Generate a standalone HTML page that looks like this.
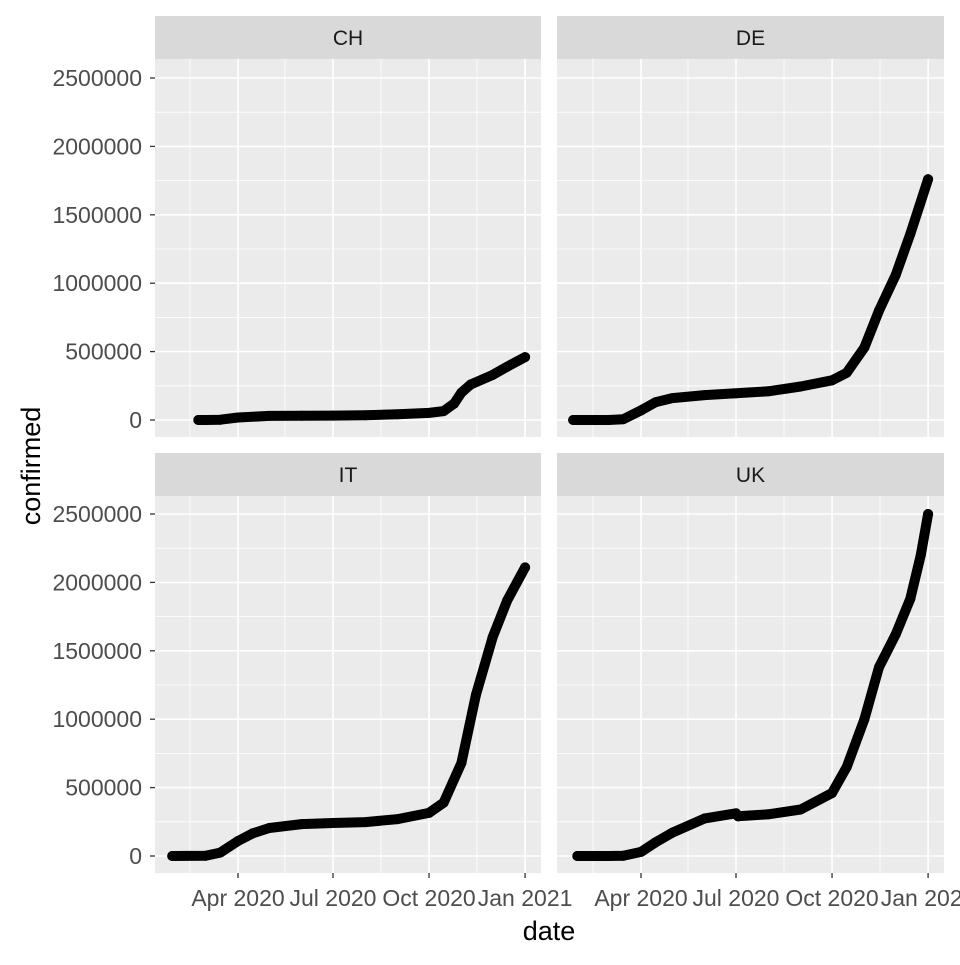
<!DOCTYPE html>
<html><head><meta charset="utf-8"><style>
body{margin:0;background:#fff}
svg{font-family:"Liberation Sans",Arial,sans-serif}
</style></head><body>
<svg id="chart" width="960" height="960" xmlns="http://www.w3.org/2000/svg"></svg>
<script>
const facets = ["CH","DE","IT","UK"];
const chDates = ["2020-02-23","2020-03-01","2020-03-15","2020-04-01","2020-05-01","2020-06-01","2020-07-01","2020-08-01","2020-09-01","2020-10-01","2020-10-15","2020-10-25","2020-11-01","2020-11-10","2020-12-01","2020-12-15","2021-01-01"];
const chValues = [0,30,2200,18000,30000,31000,32000,35000,42000,52000,65000,120000,200000,260000,330000,390000,460000];
const deDates = ["2020-01-27","2020-03-01","2020-03-15","2020-04-01","2020-04-15","2020-05-01","2020-06-01","2020-07-01","2020-08-01","2020-09-01","2020-10-01","2020-10-15","2020-11-01","2020-11-15","2020-12-01","2020-12-15","2021-01-01"];
const deValues = [0,130,6000,70000,130000,160000,182000,195000,210000,245000,290000,345000,530000,800000,1060000,1360000,1760000];
const itDates = ["2020-01-29","2020-03-01","2020-03-15","2020-04-01","2020-04-15","2020-05-01","2020-06-01","2020-07-01","2020-08-01","2020-09-01","2020-10-01","2020-10-15","2020-11-01","2020-11-15","2020-12-01","2020-12-15","2021-01-01"];
const itValues = [0,1700,25000,110000,165000,205000,233000,241000,248000,270000,315000,390000,680000,1180000,1600000,1870000,2110000];
const ukDates = ["2020-01-31","2020-03-01","2020-03-15","2020-04-01","2020-04-15","2020-05-01","2020-06-01","2020-07-01","2020-07-03","2020-08-01","2020-09-01","2020-10-01","2020-10-15","2020-11-01","2020-11-15","2020-12-01","2020-12-15","2020-12-25","2021-01-01"];
const ukValues = [0,40,1400,30000,100000,170000,275000,312000,290000,305000,340000,460000,650000,1000000,1380000,1620000,1880000,2200000,2500000];
const yTicks = [0,500000,1000000,1500000,2000000,2500000];
const xTickDates = ["2020-04-01","2020-07-01","2020-10-01","2021-01-01"];
const xTickLabels = ["Apr 2020","Jul 2020","Oct 2020","Jan 2021"];
const xMinorDates = ["2020-02-15","2020-05-16","2020-08-16","2020-11-16"];

const NS="http://www.w3.org/2000/svg";
const svg=document.getElementById('chart');
function mk(tag,attrs,parent,text){const e=document.createElementNS(NS,tag);for(const k in attrs)e.setAttribute(k,attrs[k]);if(text!==undefined)e.textContent=text;(parent||svg).appendChild(e);return e;}
const day0=Date.UTC(2020,3,1);
function days(s){const p=s.split('-');return (Date.UTC(+p[0],+p[1]-1,+p[2])-day0)/86400000;}
const panels=[
 {x0:155,x1:541,y0:59,y1:437,zx:238,zy:420,lbl:true},
 {x0:557,x1:944,y0:59,y1:437,zx:641,zy:420,lbl:false},
 {x0:155,x1:541,y0:496,y1:873,zx:238,zy:856,lbl:true},
 {x0:557,x1:944,y0:496,y1:873,zx:641,zy:856,lbl:false}];
const series=[[chDates,chValues],[deDates,deValues],[itDates,itValues],[ukDates,ukValues]];
const pxPerDay=95/91, pxPerUnit=68.4/500000;
panels.forEach((p,i)=>{
 const X=d=>p.zx+days(d)*pxPerDay, Y=v=>p.zy-v*pxPerUnit;
 const g=mk('g',{});
 
 
 const bg=mk('rect',{x:p.x0,y:p.y0,width:p.x1-p.x0,height:p.y1-p.y0,fill:'#ebebeb'},g);
 
 
 for(let k=0;k<yTicks.length;k++){
  const ym=Y(yTicks[k]+250000);
  if(ym>p.y0) mk('line',{x1:p.x0,x2:p.x1,y1:ym,y2:ym,stroke:'#fff','stroke-width':0.8},g);
 }
 xMinorDates.forEach(d=>{const x=X(d);if(x>p.x0&&x<p.x1)mk('line',{x1:x,x2:x,y1:p.y0,y2:p.y1,stroke:'#fff','stroke-width':0.8},g);});
 yTicks.forEach(v=>{const y=Y(v);mk('line',{x1:p.x0,x2:p.x1,y1:y,y2:y,stroke:'#fff','stroke-width':1.6},g);});
 xTickDates.forEach(d=>{const x=X(d);mk('line',{x1:x,x2:x,y1:p.y0,y2:p.y1,stroke:'#fff','stroke-width':1.6},g);});
 const strip=mk('rect',{x:p.x0,y:p.y0-43,width:p.x1-p.x0,height:43,fill:'#d9d9d9'},g);
 
 
 mk('text',{x:(p.x0+p.x1)/2,y:p.y0-14,'text-anchor':'middle','font-size':21,fill:'#1a1a1a'},g,facets[i]);
 const [ds,vs]=series[i];
 const pts=ds.map((d,j)=>X(d).toFixed(1)+','+Y(vs[j]).toFixed(1)).join(' ');
 const ln=mk('polyline',{points:pts,fill:'none',stroke:'#000','stroke-width':10,'stroke-linejoin':'round','stroke-linecap':'round'},g);
 
 
 ds.forEach((d,j)=>{const c=mk('circle',{cx:X(d),cy:Y(vs[j]),r:5,fill:'#000'},g);
  
  });
 if(p.lbl){yTicks.forEach(v=>{const y=Y(v);mk('line',{x1:p.x0-5,x2:p.x0,y1:y,y2:y,stroke:'#333','stroke-width':1.3});
  const t=mk('text',{x:p.x0-13,y:y+8,'text-anchor':'end','font-size':23,fill:'#4d4d4d'},svg,String(v));
  
  });}
 if(i>=2){xTickDates.forEach((d,k)=>{const x=X(d);mk('line',{x1:x,x2:x,y1:p.y1,y2:p.y1+5,stroke:'#333','stroke-width':1.3});
  const t=mk('text',{x:x,y:p.y1+33,'text-anchor':'middle','font-size':23,fill:'#4d4d4d'},svg,xTickLabels[k]);
  
  });}
});
const xt=mk('text',{x:549,y:940,'text-anchor':'middle','font-size':27,fill:'#000'},svg,'date');


const yt=mk('text',{x:0,y:0,'text-anchor':'middle','font-size':27,fill:'#000',transform:'translate(40,466) rotate(-90)'},svg,'confirmed');


</script>
</body></html>
